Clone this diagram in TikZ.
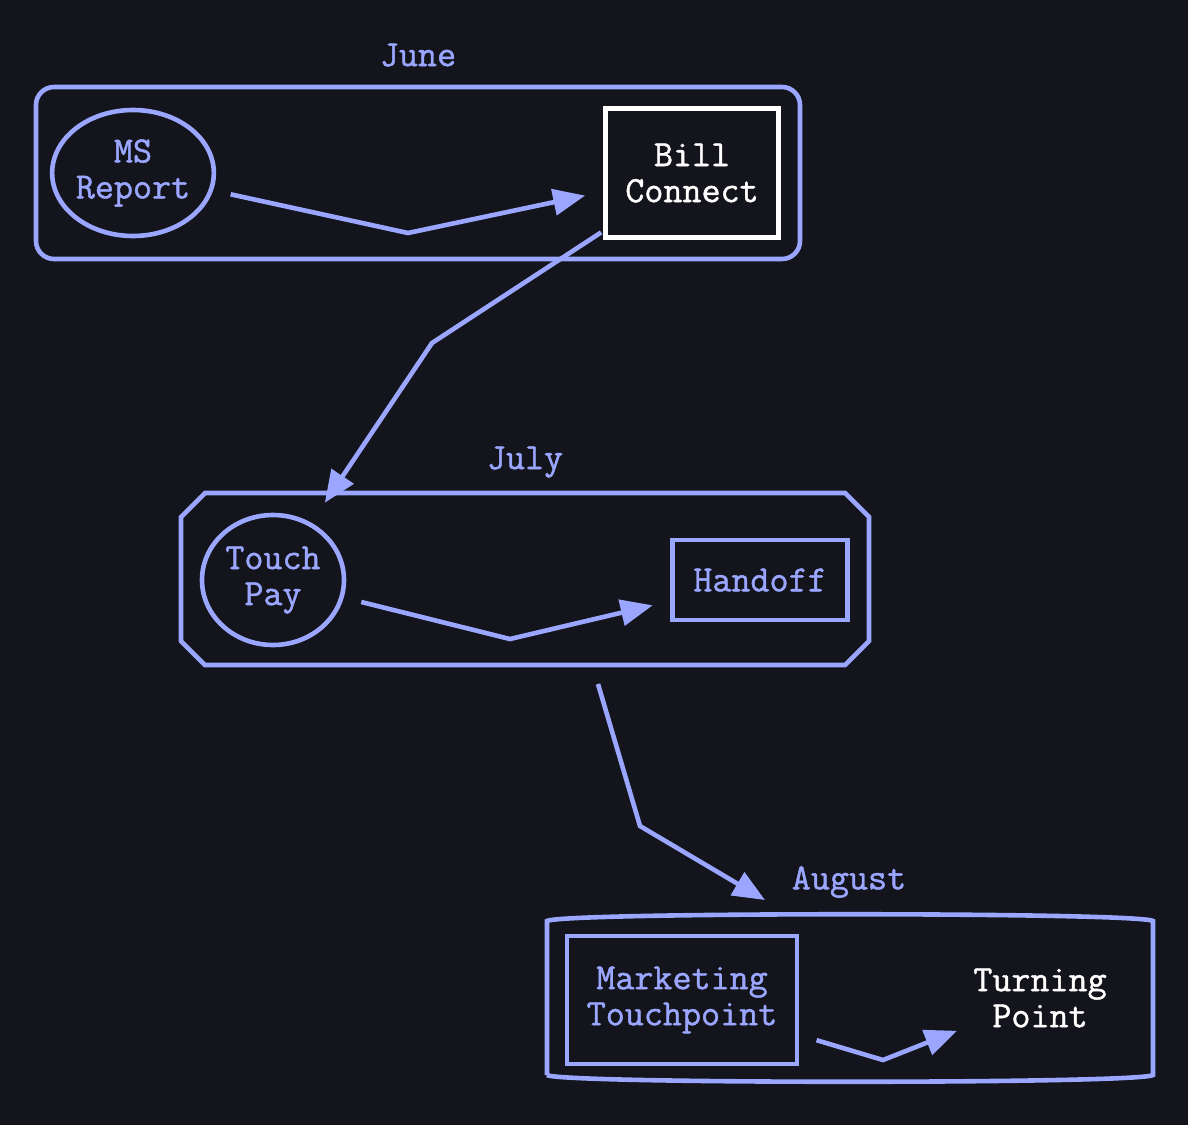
\documentclass[tikz,border=0pt]{standalone}
\usepackage{fontspec}
\setmonofont{Latin Modern Mono}[FakeBold=1.2]
\usetikzlibrary{arrows.meta,shapes.geometric}
\definecolor{bgdark}{HTML}{13141C}
\definecolor{periwinkle}{HTML}{9AA6FF}

\begin{document}
\begin{tikzpicture}[
  x=0.5pt, y=-0.5pt,
  every node/.style={font=\ttfamily\fontsize{18.5}{18}\selectfont, align=center},
  cluster/.style={draw=periwinkle, line width=2.3pt, inner sep=0pt},
  onode/.style={ellipse, draw=periwinkle, line width=2.3pt, text=periwinkle, inner sep=0pt},
  bnode/.style={rectangle, draw=periwinkle, line width=2.3pt, text=periwinkle, inner sep=0pt},
  wnode/.style={rectangle, draw=white, line width=2.7pt, text=white, inner sep=0pt},
  tlabel/.style={text=periwinkle},
  flow/.style={draw=periwinkle, line width=2.3pt, -{Triangle[length=16pt,width=13pt]},
    shorten <=9pt, shorten >=9pt}
]
  \useasboundingbox (0,0) rectangle (1188,1125);
  \fill[bgdark] (0,0) rectangle (1188,1125);

  % Cluster June
  \node[cluster, rounded corners=9pt, minimum width=382pt, minimum height=86pt] (june) at (418,173) {};
  \node[tlabel] (june-lbl) at (418,55) {June};
  \node[onode, minimum width=78pt, minimum height=63pt] (ms) at (133,173) {MS\\Report};
  \node[wnode, minimum width=86.5pt, minimum height=64.5pt] (bc) at (692,173) {Bill\\Connect};

  % Cluster July
  \draw[cluster] (205,493) -- (845,493) -- (869,517) -- (869,641) -- (845,665)
    -- (205,665) -- (181,641) -- (181,517) -- cycle;
  \node[tlabel] (july-lbl) at (525,462) {July};
  \node[onode, minimum width=71pt, minimum height=65pt] (tp) at (273,580) {Touch\\Pay};
  \node[bnode, minimum width=87.5pt, minimum height=40pt] (ho) at (760,580) {Handoff};

  % Cluster August
  \draw[cluster] (547,1075) -- (547,921) .. controls (560,912) and (1140,912) .. (1153,921)
    -- (1153,1075) .. controls (1140,1084) and (560,1084) .. (547,1075);
  \node[tlabel] (aug-lbl) at (849,882) {August};
  \node[bnode, minimum width=115pt, minimum height=64pt] (mt) at (682,1000) {Marketing\\Touchpoint};
  \node[text=white] (tn) at (1040,998) {Turning\\Point};

  % Bends
  \coordinate (b1) at (408,233);
  \coordinate (b2) at (432,343);
  \coordinate (b3) at (510,639);
  \coordinate (b4) at (640,826);
  \coordinate (b5) at (883,1060);
  \coordinate (j-out) at (598,684);
  \coordinate (a-in) at (765,900);

  % Edges
  \draw[flow] (ms) -- (b1) -- (bc);
  \draw[flow, shorten <=1pt, shorten >=12pt] (bc) -- (b2) -- (tp);
  \draw[flow] (tp) -- (b3) -- (ho);
  \draw[flow, shorten <=0pt, shorten >=0pt] (j-out) -- (b4) -- (a-in);
  \draw[flow, shorten >=5pt] (mt) -- (b5) -- (tn);
\end{tikzpicture}
\end{document}
